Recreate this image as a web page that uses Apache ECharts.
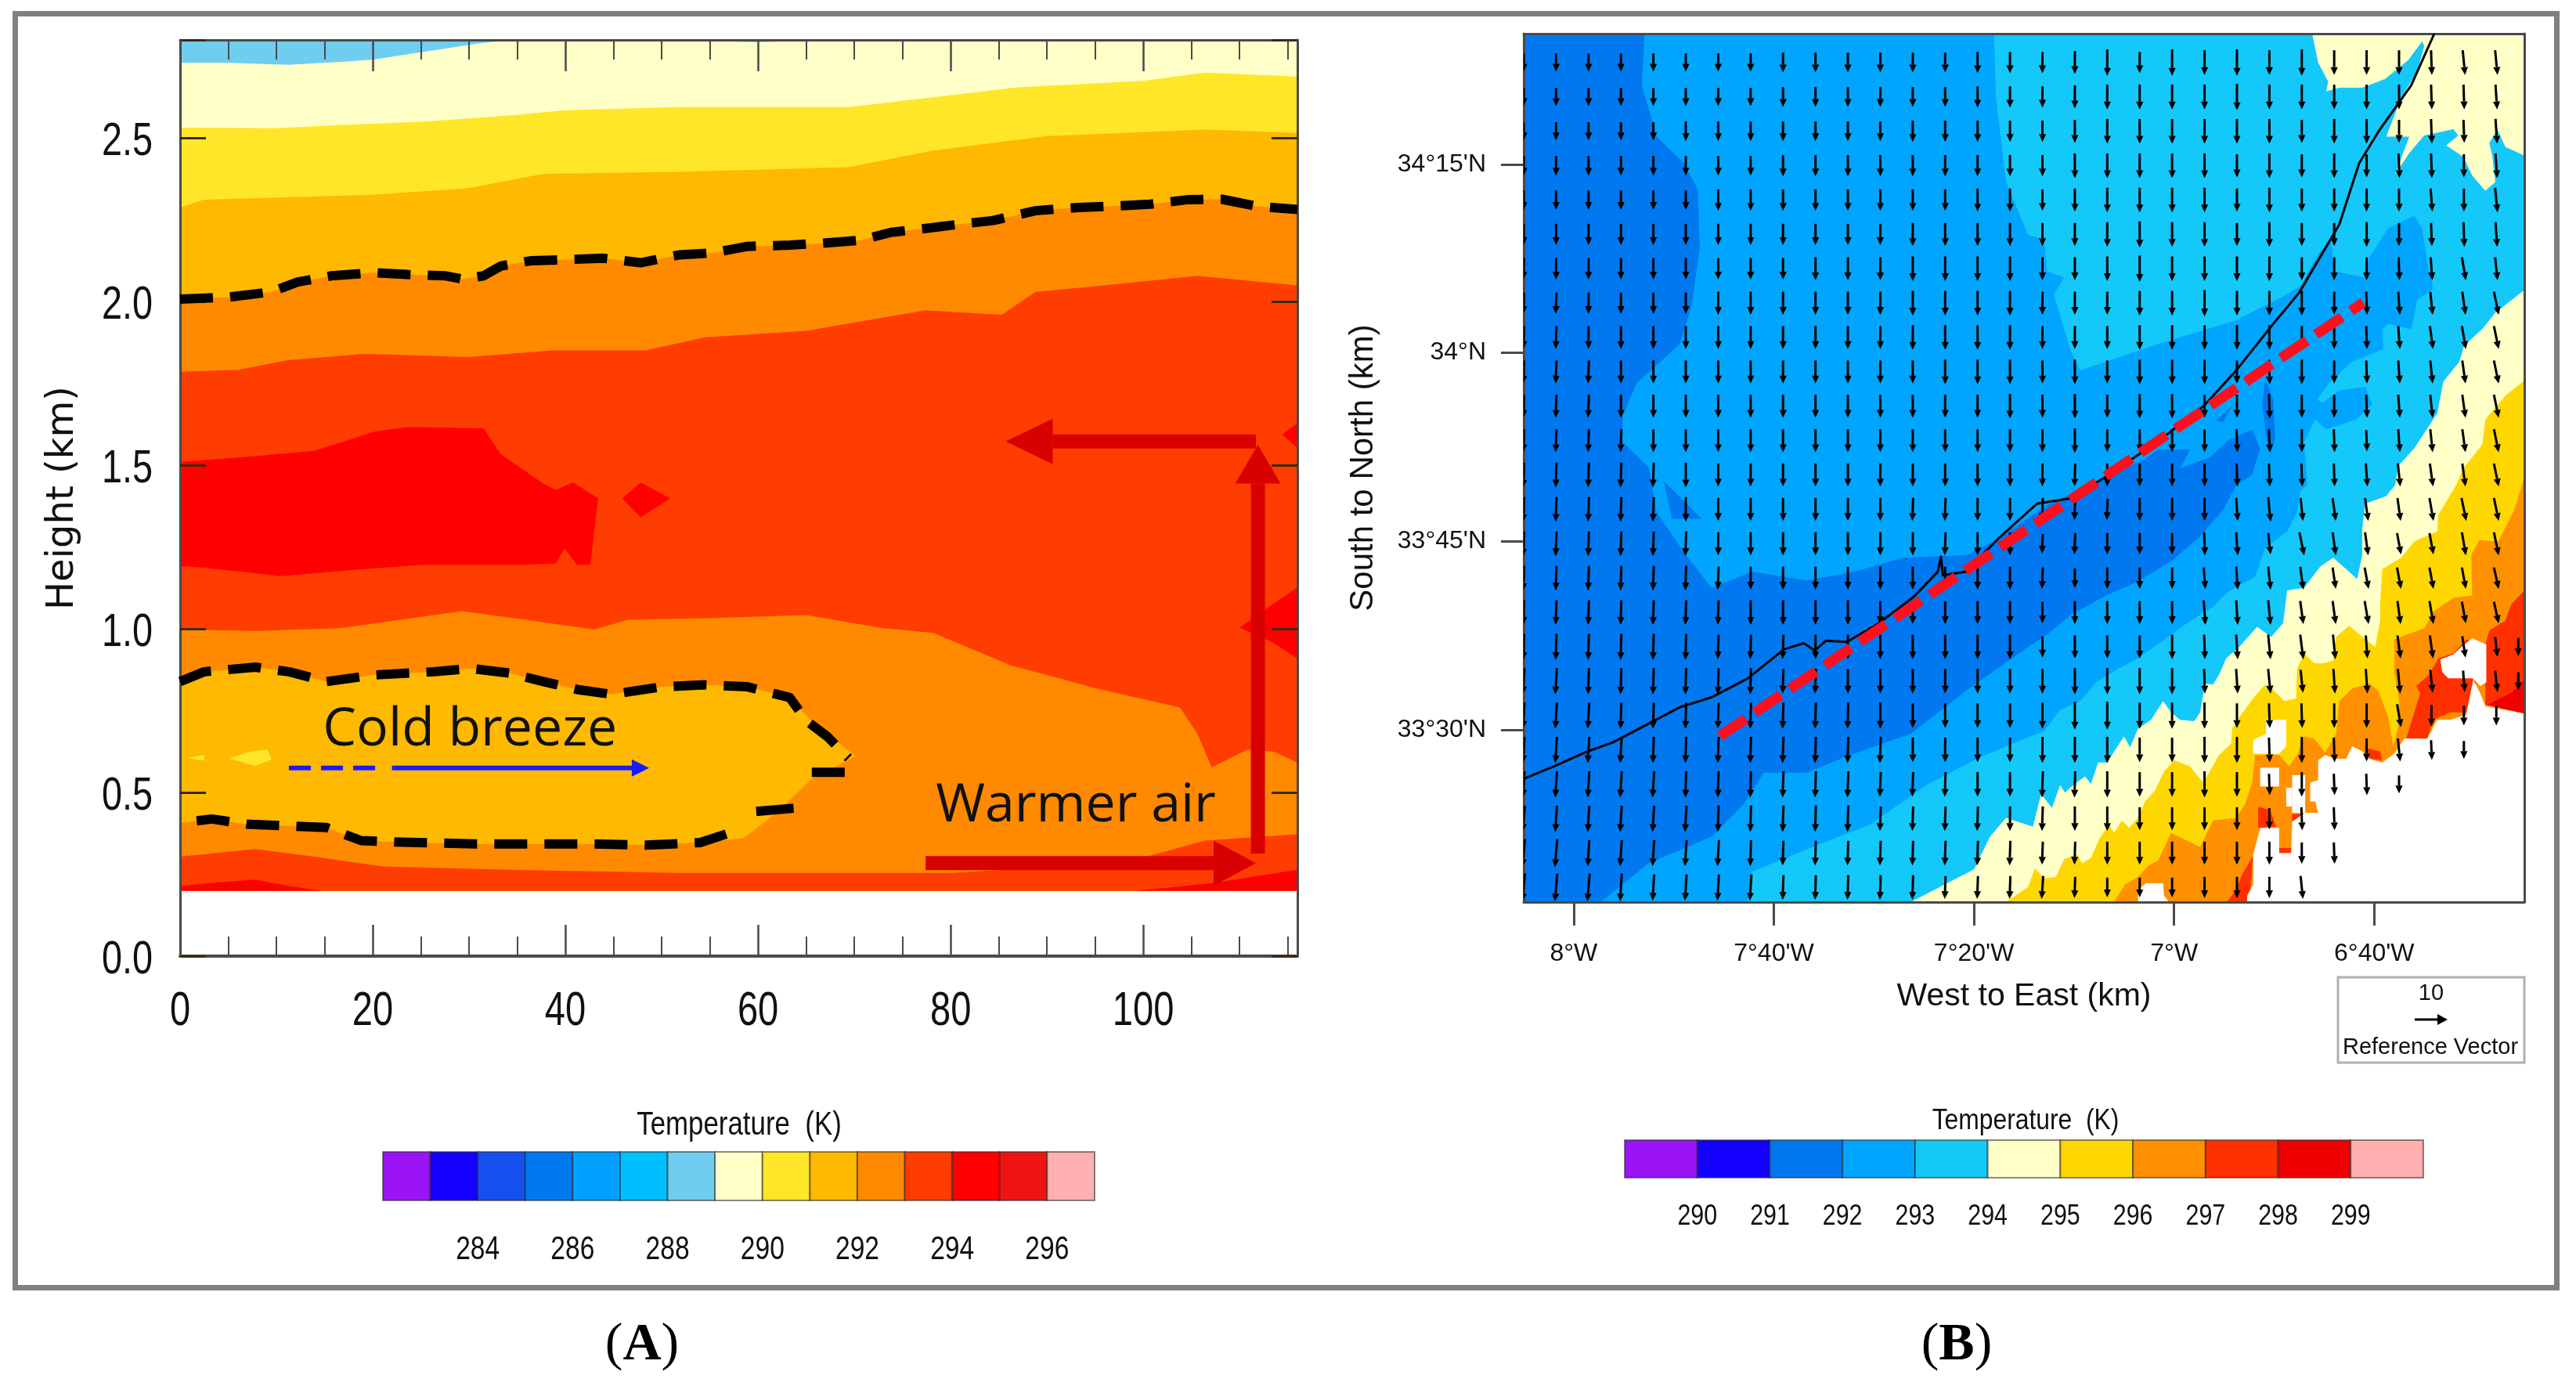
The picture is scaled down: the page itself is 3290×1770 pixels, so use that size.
<!DOCTYPE html>
<html><head><meta charset="utf-8">
<style>html,body{margin:0;padding:0;background:#fff}#c{width:3290px;height:1770px}</style>
<script src="https://cdn.jsdelivr.net/npm/echarts@6/dist/echarts.min.js"></script></head>
<body><div id="c"></div>
<script>
// ---------- Panel A : band boundaries (km, km) ----------
const paleBlueTop=[[0,2.8],[0,2.73],[5.1,2.73],[11.2,2.724],[17.4,2.734],[20.1,2.74],[25.4,2.764],[30.7,2.788],[34,2.8]];
const paleBlueSliver=[[52,2.8],[66,2.8],[60,2.793]];
const paleYellowBase=[[0,2.8],[116,2.8],[116,0.2],[0,0.2]];
const yellowTop=[[0,2.532],[9.8,2.53],[16.5,2.54],[25.1,2.55],[34.2,2.569],[40,2.585],[51.8,2.595],[69.4,2.595],[78.2,2.625],[87,2.655],[100,2.675],[106.4,2.7],[116,2.688]];
const goldTop=[[0,2.288],[2.5,2.312],[20,2.327],[30,2.347],[37.7,2.391],[51.8,2.397],[69.4,2.411],[78.2,2.462],[90,2.506],[106.4,2.526],[116,2.516]];
const upperContour=[[0,2.008],[5.1,2.014],[9.5,2.03],[12.2,2.06],[15.7,2.079],[20.1,2.089],[23.6,2.083],[27.6,2.079],[29.3,2.069],[31.5,2.079],[33.3,2.109],[36.4,2.125],[40.4,2.129],[43.9,2.133],[47.8,2.119],[51.8,2.143],[55.3,2.149],[58.9,2.169],[63.3,2.173],[66.8,2.179],[70.7,2.188],[73.8,2.212],[77.4,2.224],[81.3,2.238],[84.4,2.248],[88.8,2.278],[93.2,2.288],[96.7,2.292],[100.7,2.298],[104.7,2.312],[108.2,2.313],[111.7,2.292],[116,2.282]];
const redOrangeTop=[[0,1.786],[6,1.792],[11.2,1.821],[19.2,1.841],[29.9,1.831],[38.6,1.851],[48.3,1.851],[54.5,1.891],[65,1.911],[77.4,1.974],[85.3,1.96],[88.8,2.03],[95.9,2.05],[105.6,2.079],[116,2.05]];
const lowerOrangeTop=[[0,0.998],[7.8,0.994],[16.6,1.002],[29.3,1.054],[35.9,1.028],[43,0.998],[46.5,1.028],[56.2,1.034],[65,1.042],[73,1.002],[78.2,0.988],[86.2,0.889],[95,0.819],[103.8,0.76],[105.6,0.681],[107.1,0.577],[110.8,0.631],[113.5,0.625],[116,0.591]];
const bottomRedOrangeTop=[[0,0.304],[7.8,0.327],[13.9,0.304],[21,0.274],[34.2,0.264],[51.8,0.254],[69.4,0.254],[80,0.254],[91.5,0.274],[100.3,0.304],[106.4,0.353],[116,0.373]];
const bottomRedLeft=[[0,0.2],[0,0.214],[3.3,0.224],[7.8,0.234],[11.3,0.214],[14.8,0.2]];
const bottomRedRight=[[99.4,0.2],[107.3,0.224],[116,0.264],[116,0.2]];
const coldPoolFill=[[0,0.839],[2.5,0.869],[7.8,0.883],[11.3,0.869],[15.2,0.839],[20.1,0.859],[26.3,0.869],[30.2,0.879],[34.2,0.865],[37.7,0.839],[41.2,0.815],[44.8,0.8],[50,0.823],[54.4,0.829],[58.9,0.823],[63.3,0.79],[65.5,0.72],[70.1,0.611],[65.5,0.54],[62,0.44],[58.5,0.36],[54,0.347],[48.3,0.339],[43,0.343],[37.7,0.343],[30.7,0.343],[22.3,0.349],[18.8,0.353],[15.2,0.393],[10.4,0.399],[6.9,0.403],[3.3,0.419],[0,0.407]];
const coldContourTop=[[0,0.839],[2.5,0.869],[7.8,0.883],[11.3,0.869],[15.2,0.839],[20.1,0.859],[26.3,0.869],[30.2,0.879],[34.2,0.865],[37.7,0.839],[41.2,0.815],[44.8,0.8],[50,0.823],[54.4,0.829],[58.9,0.823],[63.3,0.79],[65,0.72],[67.2,0.671],[69.4,0.605]];
const coldContourNose=[[69,0.562],[65.5,0.562]];
const coldContourStep=[[63.7,0.452],[59.7,0.442]];
const coldContourBottom=[[56.7,0.373],[54,0.347],[48.3,0.339],[43,0.343],[37.7,0.343],[30.7,0.343],[22.3,0.349],[18.8,0.353],[15.2,0.393],[10.4,0.399],[6.9,0.403],[3.3,0.419],[0,0.407]];
const yellowSpot=[[5.1,0.605],[7.3,0.625],[9.1,0.631],[9.5,0.601],[7.8,0.581]];
const yellowDot=[[0.7,0.605],[2.5,0.615],[2.5,0.597]];
const redCore=[[0,1.51],[7.8,1.528],[13.9,1.544],[16.6,1.569],[20.1,1.603],[23.6,1.617],[31.5,1.613],[33.3,1.534],[37.7,1.444],[39,1.425],[40.8,1.448],[43.4,1.399],[42.6,1.196],[41.2,1.196],[39.9,1.246],[39,1.2],[35.9,1.196],[25.4,1.196],[18.3,1.181],[10.4,1.161],[2.5,1.187],[0,1.192]];
const redDiamond=[[45.9,1.399],[47.8,1.448],[50.9,1.399],[47.8,1.341]];
const redEdgeHigh=[[114.4,1.593],[116,1.629],[116,1.554]];
const redEdgeMid=[[110,1.004],[113.5,1.077],[116,1.127],[116,0.909],[113.5,0.958]];
// tail, head base, tip
const flowArrows=[[111.7,1.573,90.6,1.573,85.7,1.573],[111.9,0.313,111.9,1.444,111.9,1.563],[77.4,0.284,107.3,0.284,111.7,0.284]];
const breezeDashed=[[11.3,0.575],[21.3,0.575]];
const breezeArrow=[[22,0.575,46.9,0.575,48.7,0.575]];
const panelANotes=[[30.1,0.689,'Cold breeze'],[93,0.457,'Warmer air']];
const heightTicks=[0,0.5,1,1.5,2,2.5];
const distanceTicks=[0,20,40,60,80,100];

// ---------- Panel B : band outlines (lon, lat in arc-minutes) ----------
const lonTicks=[-480,-460,-440,-420,-400];
const lonLabels=["8°W","7°40'W","7°20'W","7°W","6°40'W"];
const latTicks=[2010,2025,2040,2055];
const latLabels=["33°30'N","33°45'N","34°N","34°15'N"];
const darkBlue=[[-485,2065.4],[-472.9,2065.4],[-473.2,2061.3],[-471.7,2057.2],[-469,2055.1],[-467.6,2053],[-467.4,2048.4],[-468.2,2043.8],[-469.4,2040.7],[-473.7,2037.6],[-475.1,2035],[-475.1,2032.9],[-472.5,2030.9],[-471.7,2027.3],[-468.6,2023.7],[-466.2,2021.3],[-462.2,2022.6],[-456.7,2021.9],[-451.9,2022.6],[-447.1,2023.7],[-440.8,2023.9],[-437.6,2025.2],[-432.9,2027.8],[-428.1,2029.6],[-423,2031.5],[-421.6,2032.3],[-418.4,2032.3],[-419.4,2030.8],[-416.4,2031.7],[-414.5,2033.1],[-412.2,2033.9],[-411.4,2032.4],[-412.2,2030.3],[-413.8,2029.45],[-415.1,2027.5],[-417.4,2025.4],[-420.3,2023.4],[-423.9,2021.7],[-426.8,2020.7],[-430.4,2019.1],[-432.7,2017.6],[-434.6,2016.6],[-440.8,2013.1],[-446.3,2009.7],[-452.7,2007.9],[-456.7,2006.6],[-461,2006.6],[-463,2004.1],[-466.2,2001.5],[-472.5,1999.4],[-477.3,1996.3],[-485,1996.3]];
const darkStreak=[[-410.9,2037.9],[-410.1,2036.3],[-409.9,2033.3],[-410.3,2032],[-410.8,2033.3],[-411.2,2035.9]];
const darkSpeck=[[-415.8,2034.6],[-414.2,2035.8],[-415.1,2034.5]];
const darkPatch=[[-471,2029.8],[-467.2,2026.8],[-470.2,2026.8]];
const lightBlue=[[-438,2065.4],[-385,2065.4],[-385,1996.3],[-462.6,1996.3],[-462.2,1998.7],[-456.7,2000.5],[-450.3,2002.5],[-444.8,2005.6],[-439.2,2007.9],[-434.6,2009.4],[-433,2009.9],[-431.4,2011.6],[-429.4,2012.3],[-427.8,2013.8],[-425.5,2014.9],[-423.6,2015.7],[-421.3,2017],[-418.7,2018.5],[-416.1,2019.8],[-414.8,2020.9],[-411.9,2022.2],[-410.9,2024.5],[-408.7,2025.8],[-407.7,2027.3],[-407.4,2029],[-406.7,2029.5],[-407,2032.9],[-405.9,2034.7],[-404.8,2033.9],[-401.8,2034.7],[-400.2,2035.9],[-400.9,2037.3],[-403.5,2037],[-405.2,2036],[-405.7,2036.3],[-404.4,2037.7],[-402.2,2039.3],[-399.1,2040.3],[-399.2,2041.9],[-398.6,2042.3],[-396.3,2041.9],[-395.7,2044.2],[-394.1,2045.1],[-394.7,2047.2],[-395.2,2049.9],[-396,2050.9],[-398.6,2049.9],[-400.5,2047.6],[-401,2046],[-404,2046.5],[-404.3,2048.8],[-405.4,2048.1],[-407.4,2045.3],[-409.3,2044.4],[-413.8,2042.6],[-421.6,2040.7],[-429.4,2038.6],[-430.4,2040.3],[-432,2044.6],[-431,2046],[-432.7,2046.5],[-433,2049],[-434.6,2049.4],[-436.8,2053.6],[-437.8,2060.3]];
const lightIsland=[[-399.4,2045.3],[-398.8,2046.1],[-398.1,2045.3],[-398.6,2044.5]];
const paleNorth=[[-406.2,2065.4],[-405.6,2063.1],[-404.6,2061.6],[-404.8,2060.8],[-403.5,2061.1],[-401.2,2061.1],[-398.9,2061.8],[-396.6,2063.3],[-395.2,2064.8],[-395,2064.4],[-395.7,2062.4],[-397.3,2060.3],[-398.8,2057.2],[-396.5,2057.2],[-397.9,2054.2],[-396.5,2055.9],[-395,2057.3],[-392.1,2057.8],[-391.6,2057.3],[-392.8,2056.5],[-391.1,2055.6],[-390.2,2054.1],[-388.9,2052.9],[-387.9,2053.6],[-388.2,2055.7],[-388.5,2056.7],[-387.7,2057.8],[-386.9,2056.4],[-385,2055.7],[-385,2065.4]];
const paleSouth=[[-385,2045],[-387.9,2043.2],[-389.2,2041.9],[-391,2040.6],[-391.5,2039.3],[-393.1,2037.7],[-393.7,2035.2],[-396,2032.4],[-397.6,2031],[-397.9,2029.5],[-398.8,2028.6],[-400.9,2028],[-401.2,2026],[-401.2,2023.9],[-401.7,2022],[-402.8,2022.8],[-404.1,2023.7],[-405.4,2023],[-407,2021.3],[-408.7,2021.1],[-409.1,2018.5],[-410.3,2017.4],[-411.7,2018.2],[-413.5,2016.6],[-414.8,2015.7],[-415.5,2014.4],[-416.1,2013.6],[-416.9,2013.7],[-417.4,2011.4],[-418,2010.7],[-419.4,2010.8],[-420.3,2011.4],[-421.1,2012.3],[-422.3,2010.8],[-423.6,2010.1],[-424.4,2008.6],[-425,2009.5],[-426.7,2007.4],[-427.6,2007.4],[-428.3,2005.7],[-428.9,2006.3],[-430.1,2005.6],[-430.9,2005],[-431.4,2005.6],[-432.2,2003.8],[-433.3,2004.9],[-434.1,2002.3],[-436.8,2003],[-438.4,2001.5],[-440,1998.9],[-445.6,1996.6],[-446.3,1996.3],[-385,1996.3]];
const goldBand=[[-385,2037.8],[-386.9,2036.6],[-388.9,2034.7],[-389.2,2032.7],[-391.1,2030.8],[-391.8,2029.5],[-393.6,2027.1],[-393.7,2025.8],[-396,2025],[-397.3,2023.7],[-399.2,2022.8],[-399.4,2020.2],[-399.4,2018.7],[-399.9,2016.6],[-401.2,2017.4],[-402.5,2018.3],[-403.8,2017.4],[-404.1,2015.5],[-405.1,2015.3],[-406,2015.3],[-407,2016.1],[-407.7,2014.9],[-407.8,2012.5],[-409,2012.3],[-410,2013.1],[-410.9,2013.6],[-411.9,2012.7],[-413.5,2011],[-414.2,2010.1],[-414.3,2008.9],[-415.5,2008],[-417.1,2005.8],[-418.4,2007.1],[-420,2007.6],[-421,2006.7],[-421.9,2005.2],[-422.9,2004.3],[-423.6,2003],[-424.5,2002.2],[-425.2,2002.8],[-426,2001.8],[-426.5,2002.5],[-427.5,2001.3],[-428.3,1999.8],[-429.2,1999.4],[-429.7,2000.1],[-431,1999.7],[-431.8,1998.3],[-433,1998.2],[-433.9,1999],[-434.6,1997.5],[-436.8,1996.3],[-385,1996.3]];
const orangeBand=[[-385,2030.1],[-386,2027.5],[-387.6,2025],[-389.5,2025.1],[-390.3,2023.9],[-390.2,2020.7],[-392.1,2020.5],[-394.1,2019.4],[-395,2018.1],[-398,2017.2],[-398,2014.6],[-397.5,2012.3],[-397.5,2010.6],[-398.1,2008.7],[-398.6,2011],[-399.6,2013.1],[-400.5,2013.7],[-402.2,2013.3],[-403.5,2012.3],[-403.8,2009.7],[-404.9,2008.2],[-406,2009.3],[-407,2009.5],[-407.7,2008],[-408.5,2007.1],[-409.5,2008],[-411.9,2008],[-412.2,2005.8],[-412.9,2004.1],[-413.8,2003],[-416.1,2002.8],[-417.4,2000.7],[-419,2001.3],[-420.3,2001.8],[-421.6,1999.6],[-422.6,1999.2],[-423.6,1998.3],[-424.9,1997.7],[-426,1996.3],[-385,1996.3]];
const redOrangeEast=[[-385,2021.1],[-386.3,2020],[-386.9,2018.7],[-388.5,2017.9],[-388.9,2016.8],[-388.9,2012],[-385,2011.3]];
const redOrangeMid=[[-396.8,2009.3],[-396,2011.4],[-395.4,2012.9],[-395.8,2013.5],[-394.5,2014.4],[-393.6,2015.7],[-392.1,2016.1],[-391.5,2016.6],[-390.8,2017.2],[-388.8,2016.6],[-388.8,2014],[-390.2,2013.6],[-390.8,2011.4],[-392.4,2011.4],[-394.1,2010.8],[-394.7,2009.3]];
const redOrangeSouth=[[-412.1,2000],[-413.2,1998.5],[-413.8,1997.3],[-414.7,1996.3],[-412.5,1996.3]];
const redOrangeSpot=[[-411.6,2003.9],[-410.4,2003.6],[-409.8,2002.3],[-411.6,2002.2]];
const redOrangeBar=[[-408.2,2003.3],[-406.9,2003.3],[-406.9,2002.7],[-408.2,2002.7]];
const redOrangeFoot=[[-409.5,2000.6],[-408.3,2000.6],[-408.3,2000.2],[-409.5,2000.2]];
const redOrangeEdge=[[-411.4,2002.2],[-410.9,2002.2],[-411.5,2000.1],[-412.1,2000.1]];
const redOrangeNub=[[-401,2008.6],[-399.4,2008.3],[-399.2,2007.6],[-400.4,2007.7]];
const redEast=[[-385,2014],[-386.2,2013],[-388.7,2012],[-385,2011.3]];
const noDataMain=[[-385,2011.3],[-388.9,2011.9],[-389.4,2012.9],[-390.1,2014],[-390.8,2011.2],[-392.4,2010.8],[-393.7,2010.8],[-394.7,2009.3],[-397,2009.3],[-398,2008.1],[-399.2,2007.4],[-400.5,2007.7],[-401.2,2008.3],[-402.2,2008.7],[-402.8,2007.7],[-403.8,2007.7],[-404.9,2008],[-405.6,2007.6],[-405.6,2006],[-406.4,2005.8],[-406.4,2004.3],[-405.9,2004.3],[-405.6,2003.4],[-406.9,2003.4],[-408.2,2002.7],[-408.3,2000.2],[-409.5,2000.2],[-409.5,2002.2],[-411.4,2002.2],[-412.1,2000.1],[-412.1,1997.7],[-412.7,1996.8],[-412.7,1996.3],[-385,1996.3]];
const noDataPatch=[[-388.8,2016.8],[-390.2,2017.3],[-391.3,2016.6],[-392.1,2016],[-393.4,2015.6],[-393.2,2014.6],[-392.6,2014.1],[-390.2,2014.1],[-389.4,2013.5],[-388.8,2013.8]];
const noDataA=[[-410.8,2010.8],[-408.8,2010.8],[-408.8,2008.7],[-409.5,2008.1],[-412.1,2008.1],[-412.1,2009.2],[-410.8,2009.7]];
const noDataB=[[-411.4,2007],[-409.5,2007],[-409.5,2005.5],[-411.4,2005.5]];
const noDataC=[[-408.2,2006.4],[-406.9,2006.4],[-406.9,2003.4],[-408.2,2003.4]];
const noDataD=[[-408.8,2005.4],[-408.2,2005.4],[-408.2,2003.9],[-408.8,2003.9]];
const noDataE=[[-423.6,1996.3],[-423.6,1997.3],[-422.8,1997.8],[-421.1,1997.8],[-421,1996.8],[-420.5,1996.3]];
const coastline=[[-485,2006.1],[-481.7,2007.2],[-478.9,2008.2],[-476.1,2009],[-472.5,2010.5],[-469.4,2011.8],[-466.2,2012.6],[-462.6,2014.1],[-459,2016.4],[-457,2016.9],[-455.9,2016.3],[-454.8,2017.1],[-452.7,2017],[-449.5,2018.5],[-446,2020.6],[-443.6,2022.6],[-443.3,2023.8],[-443.1,2022.3],[-440.8,2022.6],[-437.6,2025.2],[-433.7,2028],[-430.5,2028.4],[-426.9,2030.1],[-421.7,2032.9],[-417,2035.8],[-413.8,2038.6],[-410.2,2042.2],[-407.5,2044.8],[-403.5,2050.2],[-401.5,2055.1],[-399.5,2057.7],[-396.3,2061.3],[-394,2065.4]];
const redTransect=[[-465.4,2009.5],[-401.1,2044]];

// ---------- Panel B : wind field ----------
const arrowLons=[-485,-481.76,-478.52,-475.28,-472.04,-468.8,-465.56,-462.32,-459.08,-455.84,-452.6,-449.36,-446.12,-442.88,-439.64,-436.4,-433.16,-429.92,-426.68,-423.44,-420.2,-416.96,-413.72,-410.48,-407.24,-404,-400.76,-397.52,-394.28,-391.04,-387.8,-385.6];
const arrowLats=[2063.1,2060.36,2057.63,2054.89,2052.16,2049.42,2046.69,2043.95,2041.22,2038.48,2035.75,2033.01,2030.28,2027.54,2024.81,2022.07,2019.34,2016.6,2013.87,2011.13,2008.4,2005.66,2002.93,2000.19,1997.46];
// eastward wind: code 4 = 0, each step = 0.24 m/s; '.' = no vector
const windEast=[
"44444444 44444444 44444444 4444577.",
"44444444 44444444 44444444 4444556.",
"44444444 44444444 44444444 4444556.",
"44444444 44444444 44444444 4445546.",
"44444444 44444444 44444444 4444647.",
"44444444 44444444 44444444 4444556.",
"34444444 44444444 44444444 4445697.",
"33444444 44444444 44444444 445678a.",
"33444444 44444444 44444444 445689a.",
"33344444 44444444 44444445 445678a.",
"33344444 44444444 44444445 445678a.",
"33334444 44444444 44444455 455678a.",
"33333444 44444444 43444455 556788a.",
"33333444 44443344 33344467 78889aa.",
"33333344 44444344 33444567 a88999a.",
"33333334 44444444 34444667 889999a.",
"33333334 44444444 44444667 889899a.",
"33333333 34444444 44444567 87688874",
"22333333 33444444 44444567 76677674",
"22233333 33344444 44444445 5449444.",
"22223333 33334444 44444445 454754..",
"22222333 33333344 33444445 4554....",
"12222233 33333334 34444444 55......",
"11222223 33333333 33444444 45......",
"11122222 33333333 23444444 7......."];
// wind speed: v = 5 + code*0.5 m/s
const windSouth=[
"11111111 22222233 34636565 65555550",
"11111111 22222233 34555565 55555550",
"11111222 22223333 34555555 45545450",
"22222222 33333333 35555545 45455450",
"22222233 33333344 34555545 44444450",
"33333333 33334444 44565545 44544550",
"33333333 34445555 44565555 44444440",
"33333344 44445555 44455655 54444440",
"44444444 44445555 44455555 44444440",
"44444444 44444555 45455545 54444440",
"44444444 44444445 45455445 44444440",
"44444444 44444444 45444444 44344440",
"55555544 44444444 44444444 44444440",
"55555544 44444444 43344445 44444440",
"55555544 44444444 23333443 44433440",
"55555544 44444444 32333344 43333330",
"55555555 55544444 34444555 44444330",
"66666655 55555555 34445555 55444321",
"66666666 55555555 56666555 45554331",
"66666666 66665555 67766655 55543220",
"66666666 66665555 66655665 65442100",
"66666666 66655555 66655653 53310000",
"66666666 66655555 55544443 44000000",
"77666666 55555555 44444444 33000000",
"77776666 55555444 43222333 41000000"];

// ---------- Colour scales ----------
const scaleAEdges=[282,283,284,285,286,287,288,289,290,291,292,293,294,295,296,297];
const scaleAColors=['#9b14f5','#1400ff','#1450f0','#0078f0','#00a0ff','#00bfff','#6fcdf0','#ffffc8','#ffe628','#ffb900','#ff8a00','#ff3d00','#ff0000','#ee1414','#ffb0b0'];
const scaleATicks=[284,286,288,290,292,294,296];
const scaleBEdges=[289,290,291,292,293,294,295,296,297,298,299,300];
const scaleBColors=['#9b14f5','#1400ff','#0078f0','#00a5ff','#14c8f5','#ffffc8','#ffd700','#ff9000','#ff3000','#f00000','#ffb0b0'];
const scaleBTicks=[290,291,292,293,294,295,296,297,298,299];

// ---------- helpers ----------
const SANS="'Liberation Sans',sans-serif";
const AXC='#4a4a4a';
function fillSeries(ax,pts,color,z){
  return {type:'custom',coordinateSystem:'cartesian2d',xAxisIndex:ax,yAxisIndex:ax,data:pts,z:z,silent:true,animation:false,clip:true,
    renderItem:(p,api)=>p.dataIndex?null:{type:'polygon',shape:{points:pts.map(q=>api.coord(q))},style:{fill:color}}};
}
function bandBelow(ax,top,color,z,floor){
  const l=top[top.length-1][0],f=top[0][0];
  return fillSeries(ax,top.concat([[l,floor],[f,floor]]),color,z);
}
function lineSeries(ax,pts,color,w,dash,z){
  return {type:'line',xAxisIndex:ax,yAxisIndex:ax,data:pts,symbol:'none',silent:true,animation:false,z:z,
    lineStyle:{color:color,width:w,type:dash||'solid',cap:'butt',join:'round'}};
}
function arrowSeries(ax,list,color,w,hw,z){
  return {type:'custom',coordinateSystem:'cartesian2d',xAxisIndex:ax,yAxisIndex:ax,data:list,z:z,silent:true,animation:false,
    renderItem:(p,api)=>{
      const a=list[p.dataIndex],t=api.coord([a[0],a[1]]),b=api.coord([a[2],a[3]]),h=api.coord([a[4],a[5]]);
      const dx=h[0]-t[0],dy=h[1]-t[1],L=Math.hypot(dx,dy),nx=-dy/L*hw,ny=dx/L*hw;
      return {type:'group',children:[
        {type:'line',shape:{x1:t[0],y1:t[1],x2:b[0],y2:b[1]},style:{stroke:color,lineWidth:w}},
        {type:'polygon',shape:{points:[[b[0]+nx,b[1]+ny],[h[0],h[1]],[b[0]-nx,b[1]-ny]]},style:{fill:color}}]};
    }};
}
// tick text drawn as real text from the axis scale, condensed like the reference
function tickText(ax,items,o){
  return {type:'custom',coordinateSystem:'cartesian2d',xAxisIndex:ax,yAxisIndex:ax,data:items.map(i=>[i[0],i[1]]),z:50,silent:true,animation:false,clip:false,
    renderItem:(p,api)=>{
      const c=api.coord([api.value(0),api.value(1)]);
      return {type:'text',x:c[0]+(o.dx||0),y:c[1]+(o.dy||0),scaleX:o.scale,
        style:{x:0,y:0,text:items[p.dataIndex][2],fill:'#111',font:o.font,align:o.align||'center',verticalAlign:'middle'}};
    }};
}
function windData(){
  const out=[];
  windEast.forEach((row,r)=>{
    const e=row.replace(/ /g,''),s=windSouth[r].replace(/ /g,'');
    for(let c=0;c<e.length;c++){
      if(e[c]==='.')continue;
      out.push([arrowLons[c],arrowLats[r],(parseInt(e[c],16)-4)*0.24,-(5+parseInt(s[c],10)*0.5)]);
    }
  });
  return out;
}
const PX_PER_MS=4.2;
const windSeries={type:'custom',coordinateSystem:'cartesian2d',xAxisIndex:1,yAxisIndex:1,data:windData(),z:30,silent:true,animation:false,clip:true,
  encode:{x:0,y:1},
  renderItem:(p,api)=>{
    const c=api.coord([api.value(0),api.value(1)]),dx=api.value(2)*PX_PER_MS,dy=-api.value(3)*PX_PER_MS;
    const t=[c[0]-dx/2,c[1]-dy/2],h=[c[0]+dx/2,c[1]+dy/2],L=Math.hypot(dx,dy),ux=dx/L,uy=dy/L;
    const b=[h[0]-ux*10,h[1]-uy*10];
    return {type:'group',children:[
      {type:'line',shape:{x1:t[0],y1:t[1],x2:b[0],y2:b[1]},style:{stroke:'#000',lineWidth:3}},
      {type:'polygon',shape:{points:[[b[0]-uy*4.6,b[1]+ux*4.6],[h[0],h[1]],[b[0]+uy*4.6,b[1]-ux*4.6]]},style:{fill:'#000'}}]};
  }};
function barSeries(ax,edges,colors){
  return {type:'custom',coordinateSystem:'cartesian2d',xAxisIndex:ax,yAxisIndex:ax,data:colors.map((c,i)=>[edges[i],edges[i+1]]),z:5,silent:true,animation:false,
    renderItem:(p,api)=>{
      const a=api.coord([api.value(0),1]),b=api.coord([api.value(1),0]);
      return {type:'rect',shape:{x:a[0],y:a[1],width:b[0]-a[0],height:b[1]-a[1]},style:{fill:colors[p.dataIndex],stroke:'rgba(40,40,40,0.55)',lineWidth:2}};
    }};
}
const noteSeries={type:'custom',coordinateSystem:'cartesian2d',xAxisIndex:0,yAxisIndex:0,data:panelANotes.map(n=>[n[0],n[1]]),z:40,silent:true,animation:false,
  renderItem:(p,api)=>{
    const c=api.coord([api.value(0),api.value(1)]);
    return {type:'text',style:{x:c[0],y:c[1],text:panelANotes[p.dataIndex][2],fill:'#111',font:"68px 'Open Sans',sans-serif",align:'center',verticalAlign:'middle'}};
  }};

// ---------- Series ----------
const C={pb:'#6fcdf0',py:'#ffffc8',y:'#ffe628',g:'#ffb900',o:'#ff8a00',ro:'#ff3d00',r:'#ff0000'};
const C2={d:'#0078f0',m:'#00a5ff',l:'#14c8fa',py:'#ffffc8',g:'#ffd700',o:'#ff9000',ro:'#ff3000',r:'#f00000',w:'#ffffff'};
const bf=[[-485,2065.4],[-385,2065.4],[-385,1996.3],[-485,1996.3]];
const series=[
  fillSeries(0,paleYellowBase,C.py,2),
  fillSeries(0,paleBlueTop,C.pb,3),
  fillSeries(0,paleBlueSliver,C.pb,3),
  bandBelow(0,yellowTop,C.y,4,0.2),
  bandBelow(0,goldTop,C.g,5,0.2),
  bandBelow(0,upperContour,C.o,6,0.2),
  bandBelow(0,redOrangeTop,C.ro,7,0.2),
  bandBelow(0,lowerOrangeTop,C.o,8,0.2),
  bandBelow(0,bottomRedOrangeTop,C.ro,9,0.2),
  fillSeries(0,bottomRedLeft,C.r,10),
  fillSeries(0,bottomRedRight,C.r,10),
  fillSeries(0,coldPoolFill,C.g,10),
  fillSeries(0,yellowSpot,C.y,11),
  fillSeries(0,yellowDot,C.y,11),
  fillSeries(0,redCore,C.r,11),
  fillSeries(0,redDiamond,C.r,11),
  fillSeries(0,redEdgeHigh,C.r,11),
  fillSeries(0,redEdgeMid,C.r,11),
  lineSeries(0,upperContour,'#000',12,[42,22],20),
  lineSeries(0,coldContourTop,'#000',12,[42,22],20),
  lineSeries(0,coldContourNose,'#000',12,[42,6],20),
  lineSeries(0,coldContourStep,'#000',12,[48,6],20),
  lineSeries(0,coldContourBottom,'#000',12,[42,22],20),
  arrowSeries(0,flowArrows,'#d90000',18,29,30),
  lineSeries(0,breezeDashed,'#1a1aff',6,[28,13],30),
  arrowSeries(0,breezeArrow,'#1a1aff',6,11,30),
  noteSeries,
  tickText(0,distanceTicks.map(v=>[v,0,String(v)]),{font:"62px 'Liberation Sans',sans-serif",scale:0.76,dy:71}),
  tickText(0,heightTicks.map(v=>[0,v,v.toFixed(1)]),{font:"60px 'Liberation Sans',sans-serif",scale:0.78,align:'right',dx:-35,dy:5}),
  fillSeries(1,bf,C2.m,1),
  fillSeries(1,darkBlue,C2.d,2),
  fillSeries(1,darkStreak,C2.d,2),
  fillSeries(1,darkSpeck,C2.d,2),
  fillSeries(1,darkPatch,C2.d,2),
  fillSeries(1,lightBlue,C2.l,3),
  fillSeries(1,lightIsland,C2.m,4),
  fillSeries(1,paleNorth,C2.py,5),
  fillSeries(1,paleSouth,C2.py,5),
  fillSeries(1,goldBand,C2.g,6),
  fillSeries(1,orangeBand,C2.o,7),
  fillSeries(1,redOrangeEast,C2.ro,8),
  fillSeries(1,redOrangeMid,C2.ro,8),
  fillSeries(1,redOrangeSouth,C2.ro,8),
  fillSeries(1,redOrangeSpot,C2.ro,8),
  fillSeries(1,redOrangeBar,C2.ro,8),
  fillSeries(1,redOrangeFoot,C2.ro,8),
  fillSeries(1,redOrangeEdge,C2.ro,8),
  fillSeries(1,redOrangeNub,C2.ro,8),
  fillSeries(1,redEast,C2.r,9),
  fillSeries(1,noDataMain,C2.w,10),
  fillSeries(1,noDataPatch,C2.w,10),
  fillSeries(1,noDataA,C2.w,10),
  fillSeries(1,noDataB,C2.w,10),
  fillSeries(1,noDataC,C2.w,10),
  fillSeries(1,noDataD,C2.w,10),
  fillSeries(1,noDataE,C2.w,10),
  windSeries,
  lineSeries(1,coastline,'#000',3,'solid',32),
  lineSeries(1,redTransect,'#ff0f1e',13,[40,14],33),
  barSeries(2,scaleAEdges,scaleAColors),
  barSeries(3,scaleBEdges,scaleBColors),
  tickText(2,scaleATicks.map(v=>[v,0,String(v)]),{font:"42px 'Liberation Sans',sans-serif",scale:0.8,dy:63}),
  tickText(3,scaleBTicks.map(v=>[v,0,String(v)]),{font:"37px 'Liberation Sans',sans-serif",scale:0.82,dy:50})
];
// secondary axes carry the frame of each panel and have no data
const xA0={gridIndex:0,type:'value',min:0,max:116,interval:20,z:15,position:'bottom',
  axisLine:{show:true,onZero:false,lineStyle:{color:AXC,width:4}},
  axisTick:{show:true,inside:true,length:40,lineStyle:{color:AXC,width:2.5}},
  minorTick:{show:true,splitNumber:4,length:25,lineStyle:{color:AXC,width:2}},
  splitLine:{show:false},minorSplitLine:{show:false},axisLabel:{show:false}};
const yA0={gridIndex:0,type:'value',min:0,max:2.8,interval:0.5,z:15,position:'left',
  axisLine:{show:true,onZero:false,lineStyle:{color:AXC,width:3}},
  axisTick:{show:true,inside:true,length:33,lineStyle:{color:'#3a2a10',width:3}},
  splitLine:{show:false},axisLabel:{show:false},
  name:'Height (km)',nameLocation:'middle',nameGap:125,nameRotate:90,nameTextStyle:{fontFamily:"'DejaVu Sans',sans-serif",fontSize:48,color:'#111'}};
const xA1={gridIndex:1,type:'value',min:-485,max:-385,z:15,position:'bottom',
  axisLine:{show:true,onZero:false,lineStyle:{color:AXC,width:3}},
  axisTick:{show:true,length:30,customValues:lonTicks,lineStyle:{color:AXC,width:3}},
  splitLine:{show:false},
  name:'West to East (km)',nameLocation:'middle',nameGap:100,nameTextStyle:{fontFamily:SANS,fontSize:41,color:'#111'},
  axisLabel:{margin:50,color:'#111',fontFamily:SANS,fontSize:32,customValues:lonTicks,
    formatter:v=>lonLabels[lonTicks.indexOf(Math.round(v))]}};
const yA1={gridIndex:1,type:'value',min:1996.3,max:2065.4,z:15,position:'left',
  axisLine:{show:true,onZero:false,lineStyle:{color:AXC,width:3}},
  axisTick:{show:true,length:29,customValues:latTicks,lineStyle:{color:AXC,width:3}},
  splitLine:{show:false},
  name:'South to North (km)',nameLocation:'middle',nameGap:184,nameRotate:90,nameTextStyle:{fontFamily:SANS,fontSize:42,color:'#111'},
  axisLabel:{margin:48,color:'#111',fontFamily:SANS,fontSize:32,customValues:latTicks,
    formatter:v=>latLabels[latTicks.indexOf(Math.round(v))]}};
function frameX(grid,min,max,major){
  const o={gridIndex:grid,type:'value',min:min,max:max,position:'top',z:15,
    axisLine:{show:true,onZero:false,lineStyle:{color:AXC,width:3}},axisLabel:{show:false},splitLine:{show:false},axisTick:{show:false}};
  if(major){o.interval=major;o.axisTick={show:true,inside:true,length:40,lineStyle:{color:AXC,width:2.5}};
    o.minorTick={show:true,splitNumber:4,length:25,lineStyle:{color:AXC,width:2}};}
  return o;
}
function frameY(grid,min,max,major){
  const o={gridIndex:grid,type:'value',min:min,max:max,position:'right',z:15,
    axisLine:{show:true,onZero:false,lineStyle:{color:AXC,width:3}},axisLabel:{show:false},splitLine:{show:false},axisTick:{show:false}};
  if(major){o.interval=major;o.axisTick={show:true,inside:true,length:33,lineStyle:{color:'#3a2a10',width:3}};}
  return o;
}
function scaleX(grid,min,max){
  return {gridIndex:grid,type:'value',min:min,max:max,position:'bottom',axisLine:{show:false},axisTick:{show:false},splitLine:{show:false},axisLabel:{show:false}};
}
function scaleY(grid){return {gridIndex:grid,type:'value',min:0,max:1,show:false};}
function tx(x,y,t,font,sx){return {type:'text',x:x,y:y,scaleX:sx||1,silent:true,z:100,style:{x:0,y:0,text:t,font:font,fill:'#111',align:'center',verticalAlign:'middle'}};}
function caption(x,y,letter){
  return {type:'text',x:x,y:y,silent:true,z:100,style:{text:'{n|(}{b|'+letter+'}{n|)}',align:'center',verticalAlign:'middle',
    rich:{n:{font:"68px 'Liberation Serif',serif",fill:'#000'},b:{font:"bold 68px 'Liberation Serif',serif",fill:'#000'}}}};
}
const option={
  backgroundColor:'#fff',animation:false,
  grid:[{left:230,top:51,width:1427,height:1170},{left:1946,top:43,width:1278,height:1109},
        {left:489,top:1471,width:909,height:62},{left:2075,top:1456,width:1020,height:48}],
  xAxis:[xA0,xA1,scaleX(2,282,297),scaleX(3,289,300),frameX(0,0,116,20),frameX(1,-485,-385)],
  yAxis:[yA0,yA1,scaleY(2),scaleY(3),frameY(0,0,2.8,0.5),frameY(1,1996.3,2065.4)],
  series:series,
  graphic:{elements:[
    {type:'rect',silent:true,z:100,shape:{x:19.5,y:17.5,width:3246,height:1627},style:{fill:'none',stroke:'#808080',lineWidth:7}},
    {type:'rect',silent:true,z:100,shape:{x:2986,y:1248,width:238,height:109},style:{fill:'none',stroke:'#b0b0b0',lineWidth:3}},
    tx(3105,1269,'10',"29px 'Liberation Sans',sans-serif"),
    {type:'line',silent:true,z:100,shape:{x1:3084,y1:1302,x2:3118,y2:1302},style:{stroke:'#000',lineWidth:3}},
    {type:'polygon',silent:true,z:100,shape:{points:[[3113,1295],[3126,1302],[3113,1309]]},style:{fill:'#000'}},
    tx(3104,1338,'Reference Vector',"29px 'Liberation Sans',sans-serif"),
    tx(944,1437,'Temperature  (K)',"42px 'Liberation Sans',sans-serif",0.83),
    tx(2587,1432,'Temperature  (K)',"37px 'Liberation Sans',sans-serif",0.86),
    caption(820,1718,'A'),caption(2499,1718,'B')
  ]}
};
echarts.init(document.getElementById('c'),null,{renderer:'canvas',width:3290,height:1770}).setOption(option);
</script></body></html>
